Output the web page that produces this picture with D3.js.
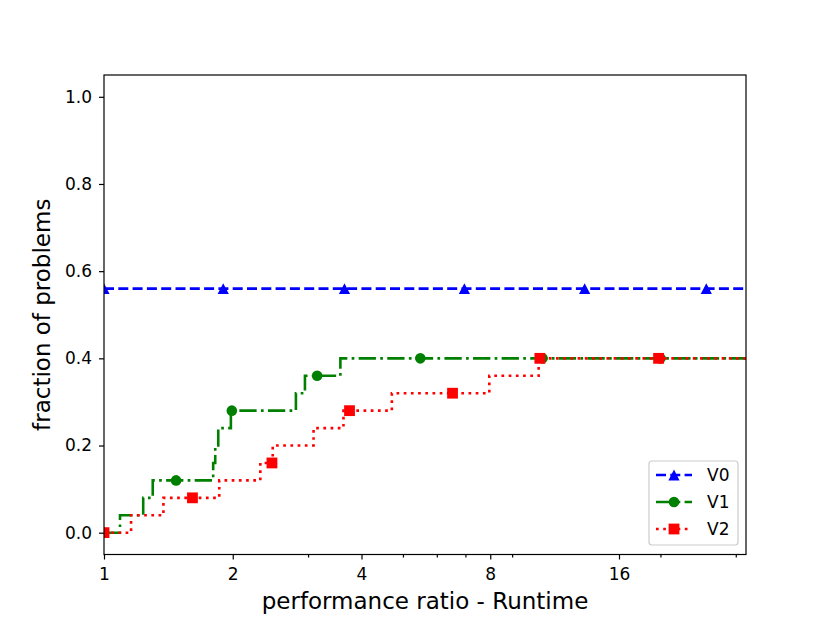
<!DOCTYPE html>
<html>
<head>
<meta charset="utf-8">
<script src="https://cdn.jsdelivr.net/npm/d3@7"></script>
<style>
  body { margin: 0; background: #fff; }
  svg { display: block; font-family: "DejaVu Sans", sans-serif; }
</style>
</head>
<body>
<svg id="chart" width="830" height="623"></svg>
<script>
// ---- data ----
const seriesNames = ["V0", "V1", "V2"];
const seriesColors = ["#0000ff", "#008000", "#ff0000"];

// step positions (performance ratio) and fraction reached at each step
const v0StepX = [1];
const v0StepY = [0.56];
const v1StepX = [1, 1.09, 1.235, 1.30, 1.80, 1.82, 1.85, 1.98, 2.81, 2.95, 3.57];
const v1StepY = [0, 0.04, 0.08, 0.12, 0.16, 0.20, 0.24, 0.28, 0.32, 0.36, 0.40];
const v2StepX = [1, 1.157, 1.377, 1.86, 2.32, 2.48, 3.09, 3.63, 4.71, 7.96, 10.38];
const v2StepY = [0, 0.04, 0.08, 0.12, 0.16, 0.20, 0.24, 0.28, 0.32, 0.36, 0.40];

// marker positions (performance ratio)
const v0MarkX = [1, 1.90, 3.65, 6.96, 13.3, 25.6];
const v1MarkX = [1, 1.474, 1.99, 3.15, 5.49, 10.6, 20.0];
const v2MarkX = [1, 1.61, 2.47, 3.75, 6.53, 10.45, 19.8];

const xMajorTicks = [1, 2, 4, 8, 16];
const xMinorTicks = [3, 5, 6, 7, 9, 20, 30];
const yTicks = [0, 0.2, 0.4, 0.6, 0.8, 1.0];
const xDomain = [1, 31.7];
const yDomain = [-0.05, 1.05];

const xLabel = "performance ratio - Runtime";
const yLabel = "fraction of problems";

// ---- layout ----
const svg = d3.select("#chart");
const L = 104, R = 746, T = 75, B = 554.5;
const x = d3.scaleLog().base(2).domain(xDomain).range([L, R]);
const y = d3.scaleLinear().domain(yDomain).range([B, T]);

svg.append("defs").append("clipPath").attr("id", "clip")
  .append("rect").attr("x", L).attr("y", T).attr("width", R - L).attr("height", B - T);

// axes
const tickFont = 17;
const xAxis = d3.axisBottom(x).tickValues(xMajorTicks).tickFormat(d => String(d))
  .tickSize(5).tickPadding(8.5);
const gx = svg.append("g").attr("transform", `translate(0,${B})`).call(xAxis);
const xMinor = d3.axisBottom(x).tickValues(xMinorTicks).tickFormat("").tickSize(3);
const gxm = svg.append("g").attr("transform", `translate(0,${B})`).call(xMinor);
const yAxis = d3.axisLeft(y).tickValues(yTicks).tickFormat(d3.format(".1f"))
  .tickSize(5).tickPadding(7);
const gy = svg.append("g").attr("transform", `translate(${L},0)`).call(yAxis);
[gx, gxm, gy].forEach(g => {
  g.select(".domain").remove();
  g.selectAll("line").attr("stroke", "#000").attr("stroke-width", 1.2);
  g.selectAll("text").attr("fill", "#000").style("font-size", tickFont + "px")
    .style("font-family", "DejaVu Sans, sans-serif");
});

// axis labels
svg.append("text").attr("x", (L + R) / 2).attr("y", 609)
  .attr("text-anchor", "middle").style("font-size", "23px").text(xLabel);
svg.append("text").attr("transform", `translate(50,${(T + B) / 2}) rotate(-90)`)
  .attr("text-anchor", "middle").style("font-size", "23px").text(yLabel);

// series
const stepXs = [v0StepX, v1StepX, v2StepX];
const stepYs = [v0StepY, v1StepY, v2StepY];
const markXs = [v0MarkX, v1MarkX, v2MarkX];
const dashes = ["10,4.3", "17.3,4.3,2.7,4.3", "2.7,4.5"];
const lw = 2.6;

function stepValue(xs, ys, v) {
  let idx = d3.bisectRight(xs, v) - 1;
  if (idx < 0) idx = 0;
  return ys[idx];
}

function markerPath(kind) {
  if (kind === 0) { const w = 5.6, h = 5.4; return `M0,${-h}L${w},${h}L${-w},${h}Z`; }
  if (kind === 1) { return d3.symbol(d3.symbolCircle, Math.PI * 5.3 * 5.3)(); }
  const s = 5.4; return `M${-s},${-s}H${s}V${s}H${-s}Z`;
}

const plot = svg.append("g").attr("clip-path", "url(#clip)");
const line = d3.line().x(d => x(d[0])).y(d => y(d[1])).curve(d3.curveStepAfter);

seriesNames.forEach((name, i) => {
  const pts = stepXs[i].map((v, k) => [v, stepYs[i][k]]);
  pts.push([xDomain[1] * 1.05, stepYs[i][stepYs[i].length - 1]]);
  const g = plot.append("g");
  g.append("path").attr("d", line(pts)).attr("fill", "none")
    .attr("stroke", seriesColors[i]).attr("stroke-width", lw)
    .attr("stroke-dasharray", dashes[i]);
  g.selectAll("path.m").data(markXs[i]).enter().append("path").attr("class", "m")
    .attr("d", markerPath(i))
    .attr("transform", d => `translate(${x(d)},${y(stepValue(stepXs[i], stepYs[i], d))})`)
    .attr("fill", seriesColors[i]);
});

// frame
svg.append("rect").attr("x", L).attr("y", T).attr("width", R - L).attr("height", B - T)
  .attr("fill", "none").attr("stroke", "#000").attr("stroke-width", 1.2);

// legend
const lg = svg.append("g");
lg.append("rect").attr("x", 649).attr("y", 461).attr("width", 89).attr("height", 84)
  .attr("rx", 3).attr("fill", "#fff").attr("fill-opacity", 0.8)
  .attr("stroke", "#cccccc").attr("stroke-width", 1.2);
seriesNames.forEach((name, i) => {
  const cy = 475 + i * 27;
  lg.append("line").attr("x1", 656).attr("x2", 692).attr("y1", cy).attr("y2", cy)
    .attr("stroke", seriesColors[i]).attr("stroke-width", lw)
    .attr("stroke-dasharray", dashes[i]);
  lg.append("path").attr("d", markerPath(i)).attr("transform", `translate(674,${cy})`)
    .attr("fill", seriesColors[i]);
  lg.append("text").attr("x", 707).attr("y", cy + 6).style("font-size", "17px").text(name);
});
</script>
</body>
</html>
